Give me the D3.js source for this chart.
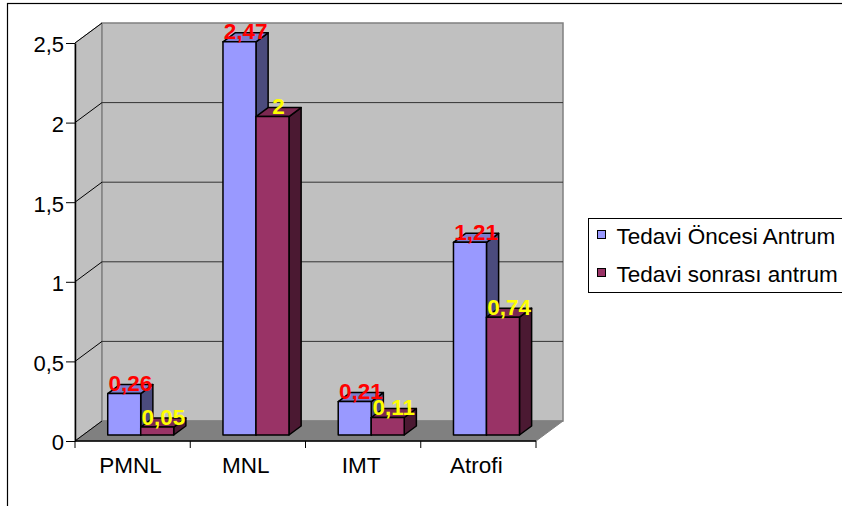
<!DOCTYPE html>
<html>
<head>
<meta charset="utf-8">
<script src="https://cdn.jsdelivr.net/npm/d3@7"></script>
<style>
  body { margin: 0; background: #fff; }
  text { font-family: "Liberation Sans", Arial, sans-serif; }
</style>
</head>
<body>
<svg id="chart"></svg>
<script>
// data
var categories = ["PMNL", "MNL", "IMT", "Atrofi"];
var seriesNames = ["Tedavi Öncesi Antrum", "Tedavi sonrası antrum"];
var before = [0.26, 2.47, 0.21, 1.21];
var after = [0.05, 2, 0.11, 0.74];
var yTicks = [0, 0.5, 1, 1.5, 2, 2.5];

var w = 842, h = 506;
var colors = ["#9999ff", "#993366"];
var labelColors = ["#ff0000", "#ffff00"];

// plot box (front plane) and depth offset
var plotLeft = 75, plotRight = 536, plotBottom = 441, plotTop = 43;
var DX = 27, DY = 20;
var z0 = 0.3, z1 = 0.75; // bar depth inside the box

var svg = d3.select("#chart").attr("width", w).attr("height", h);

var comma = d3.formatLocale({decimal: ",", thousands: ".", grouping: [3], currency: ["", ""]});
var fmt = function (v) { return comma.format("")(v); };

var x = d3.scaleBand().domain(categories).range([plotLeft, plotRight]);
var groupW = 66;
var xs = d3.scaleBand().domain([0, 1])
    .range([(x.bandwidth() - groupW) / 2, (x.bandwidth() + groupW) / 2]);
var y = d3.scaleLinear().domain([0, 2.5]).range([plotBottom, plotTop]);

function proj(px, py, z) {
    return [px + z * DX, py - z * DY];
}
function poly(pts) {
    return pts.map(function (p) { return p.join(","); }).join(" ");
}

// outer border
svg.append("rect")
    .attr("x", 7.5).attr("y", 3.5)
    .attr("width", 860).attr("height", 540)
    .attr("fill", "#fff").attr("stroke", "#000").attr("stroke-width", 1.2);

// side wall
svg.append("polygon")
    .attr("points", poly([[plotLeft, plotBottom], proj(plotLeft, plotBottom, 1), proj(plotLeft, plotTop, 1), [plotLeft, plotTop]]))
    .attr("fill", "#c0c0c0").attr("stroke", "#808080");
// back wall
svg.append("polygon")
    .attr("points", poly([proj(plotLeft, plotTop, 1), proj(plotRight, plotTop, 1), proj(plotRight, plotBottom, 1), proj(plotLeft, plotBottom, 1)]))
    .attr("fill", "#c0c0c0").attr("stroke", "#808080").attr("stroke-width", 1.5);
// floor
svg.append("polygon")
    .attr("points", poly([[plotLeft, plotBottom], [plotRight, plotBottom], proj(plotRight, plotBottom, 1), proj(plotLeft, plotBottom, 1)]))
    .attr("fill", "#808080").attr("stroke", "#808080");

// gridlines
var grid = yTicks.filter(function (d) { return d > 0 && d < 2.5; });
svg.selectAll("line.gback").data(grid).enter().append("line")
    .attr("class", "gback")
    .attr("x1", plotLeft + DX).attr("x2", plotRight + DX)
    .attr("y1", function (d) { return y(d) - DY; })
    .attr("y2", function (d) { return y(d) - DY; })
    .attr("stroke", "#333").attr("stroke-width", 1);
svg.selectAll("line.gside").data(yTicks).enter().append("line")
    .attr("class", "gside")
    .attr("x1", plotLeft).attr("x2", plotLeft + DX)
    .attr("y1", function (d) { return y(d); })
    .attr("y2", function (d) { return y(d) - DY; })
    .attr("stroke", "#000").attr("stroke-width", 1);

// y axis
var yAxis = svg.append("g")
    .attr("transform", "translate(" + plotLeft + ",0)")
    .call(d3.axisLeft(y).tickValues(yTicks).tickSize(9).tickSizeOuter(0).tickPadding(2).tickFormat(fmt));
yAxis.select(".domain").attr("stroke", "#000").attr("stroke-width", 1.5);
yAxis.selectAll(".tick line").attr("stroke", "#000");
yAxis.selectAll(".tick text")
    .attr("font-family", "Liberation Sans, Arial, sans-serif")
    .attr("font-size", "22px").attr("fill", "#000").attr("dy", "0.4em");

// x axis
svg.append("line")
    .attr("x1", plotLeft).attr("x2", plotRight).attr("y1", plotBottom).attr("y2", plotBottom)
    .attr("stroke", "#000").attr("stroke-width", 1.5);
svg.selectAll("line.xtick").data(categories.concat(["end"])).enter().append("line")
    .attr("class", "xtick")
    .attr("x1", function (d, i) { return plotLeft + i * x.step(); })
    .attr("x2", function (d, i) { return plotLeft + i * x.step(); })
    .attr("y1", plotBottom).attr("y2", plotBottom + 7)
    .attr("stroke", "#000");
svg.selectAll("text.cat").data(categories).enter().append("text")
    .attr("class", "cat")
    .attr("x", function (d) { return x(d) + x.bandwidth() / 2 - 2; })
    .attr("y", 473)
    .attr("text-anchor", "middle")
    .attr("font-size", "22.5px")
    .text(function (d) { return d; });

// bars
var bars = [];
categories.forEach(function (c, i) {
    [before[i], after[i]].forEach(function (v, s) {
        bars.push({cat: c, s: s, v: v});
    });
});

var g = svg.selectAll("g.bar").data(bars).enter().append("g").attr("class", "bar");
function faces(d) {
    var xa = x(d.cat) + xs(d.s), xb = xa + xs.bandwidth();
    var yb = y(0), yt = y(d.v);
    return {
        front: [proj(xa, yb, z0), proj(xb, yb, z0), proj(xb, yt, z0), proj(xa, yt, z0)],
        top: [proj(xa, yt, z0), proj(xb, yt, z0), proj(xb, yt, z1), proj(xa, yt, z1)],
        side: [proj(xb, yb, z0), proj(xb, yb, z1), proj(xb, yt, z1), proj(xb, yt, z0)]
    };
}
g.append("polygon")
    .attr("points", function (d) { return poly(faces(d).side); })
    .attr("fill", function (d) { return d3.color(colors[d.s]).darker(2); });
g.append("polygon")
    .attr("points", function (d) { return poly(faces(d).top); })
    .attr("fill", function (d) { return d3.color(colors[d.s]).darker(0.6); });
g.append("polygon")
    .attr("points", function (d) { return poly(faces(d).front); })
    .attr("fill", function (d) { return colors[d.s]; });
g.selectAll("polygon")
    .attr("stroke", "#000").attr("stroke-width", 1.5).attr("stroke-linejoin", "round");

// value labels
svg.selectAll("text.val").data(bars).enter().append("text")
    .attr("class", "val")
    .attr("x", function (d) {
        return proj(x(d.cat) + xs(d.s) + xs.bandwidth() / 2, 0, (z0 + z1) / 2)[0];
    })
    .attr("y", function (d) { return proj(0, y(d.v), (z0 + z1) / 2)[1] + 2; })
    .attr("text-anchor", "middle")
    .attr("font-size", "22.5px").attr("font-weight", "bold")
    .attr("fill", function (d) { return labelColors[d.s]; })
    .text(function (d) { return fmt(d.v); });

// legend
var lg = svg.append("g").attr("transform", "translate(588.5,218.5)");
lg.append("rect")
    .attr("width", 300).attr("height", 74)
    .attr("fill", "#fff").attr("stroke", "#000").attr("stroke-width", 1);
var item = lg.selectAll("g.item").data(seriesNames).enter().append("g")
    .attr("class", "item")
    .attr("transform", function (d, i) { return "translate(0," + (i * 38) + ")"; });
item.append("rect")
    .attr("x", 9).attr("y", 12).attr("width", 8).attr("height", 8)
    .attr("fill", function (d, i) { return colors[i]; })
    .attr("stroke", "#000");
item.append("text")
    .attr("x", 28).attr("y", 25)
    .attr("font-size", "22.5px")
    .text(function (d) { return d; });
</script>
</body>
</html>
